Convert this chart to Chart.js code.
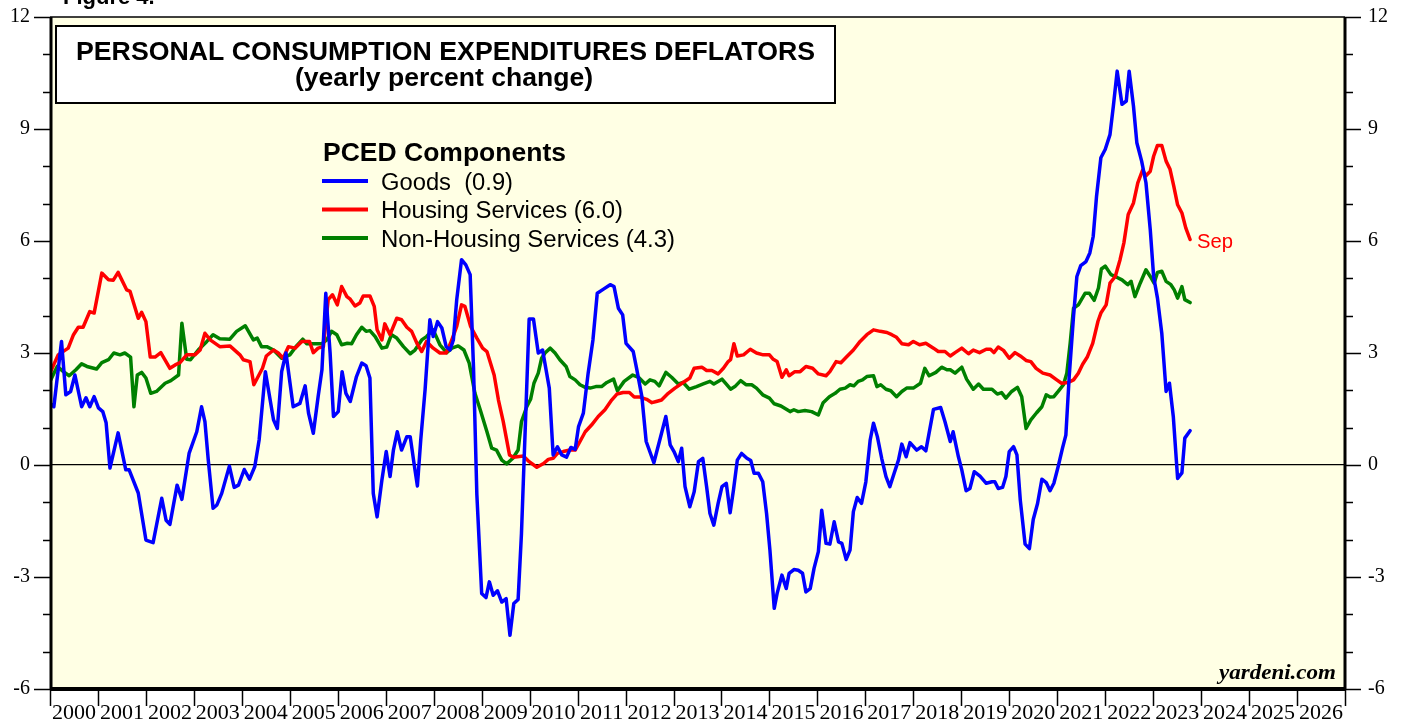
<!DOCTYPE html>
<html>
<head>
<meta charset="utf-8">
<script src="https://cdn.jsdelivr.net/npm/chart.js@4.4.0/dist/chart.umd.min.js"></script>
<style>
  html, body { margin: 0; padding: 0; background: #fff; }
</style>
</head>
<body>
<canvas id="myChart" width="1405" height="723"></canvas>
<script>
// values: [years since Jan 2000, yearly % change]
var goods = [[0.00,1.65],[0.08,1.56],[0.24,3.31],[0.33,1.88],[0.43,1.97],[0.52,2.41],[0.66,1.56],[0.75,1.80],[0.83,1.56],[0.92,1.83],[1.01,1.53],[1.10,1.43],[1.17,1.13],[1.25,-0.08],[1.42,0.86],[1.58,-0.13],[1.65,-0.13],[1.84,-0.75],[2.00,-2.01],[2.15,-2.08],[2.33,-0.89],[2.42,-1.48],[2.50,-1.59],[2.65,-0.54],[2.75,-0.92],[2.90,0.31],[3.06,0.89],[3.16,1.56],[3.23,1.16],[3.30,0.13],[3.40,-1.16],[3.48,-1.07],[3.58,-0.76],[3.74,-0.03],[3.84,-0.60],[3.93,-0.54],[4.05,-0.12],[4.16,-0.38],[4.27,-0.04],[4.36,0.67],[4.49,2.50],[4.66,1.21],[4.74,0.98],[4.83,2.50],[4.92,3.00],[5.07,1.56],[5.21,1.65],[5.32,2.12],[5.39,1.39],[5.49,0.85],[5.59,1.83],[5.67,2.55],[5.75,4.60],[5.84,3.00],[5.91,1.30],[6.01,1.43],[6.09,2.50],[6.17,1.92],[6.26,1.70],[6.39,2.37],[6.50,2.73],[6.59,2.66],[6.67,2.33],[6.74,-0.76],[6.82,-1.39],[6.92,-0.40],[7.01,0.36],[7.09,-0.31],[7.16,0.40],[7.24,0.89],[7.33,0.40],[7.44,0.76],[7.51,0.76],[7.59,0.04],[7.66,-0.56],[7.73,0.67],[7.82,2.01],[7.92,3.89],[7.99,3.44],[8.08,3.84],[8.17,3.67],[8.26,3.17],[8.34,3.08],[8.41,3.35],[8.48,4.43],[8.58,5.50],[8.67,5.36],[8.76,5.10],[8.83,2.60],[8.90,-0.80],[9.00,-3.44],[9.09,-3.55],[9.16,-3.13],[9.24,-3.49],[9.33,-3.37],[9.42,-3.67],[9.51,-3.58],[9.59,-4.56],[9.67,-3.71],[9.76,-3.60],[9.83,-1.83],[9.92,1.39],[9.99,3.91],[10.08,3.91],[10.18,3.00],[10.27,3.08],[10.41,2.06],[10.49,0.27],[10.58,0.49],[10.67,0.27],[10.77,0.21],[10.86,0.47],[10.95,0.42],[11.02,1.03],[11.12,1.39],[11.22,2.46],[11.32,3.35],[11.41,4.60],[11.54,4.71],[11.68,4.83],[11.76,4.78],[11.85,4.20],[11.94,4.02],[12.01,3.26],[12.16,3.04],[12.23,2.59],[12.34,1.83],[12.43,0.63],[12.59,0.06],[12.75,0.85],[12.84,1.30],[12.93,0.54],[13.01,0.36],[13.10,0.09],[13.17,0.45],[13.24,-0.58],[13.34,-1.12],[13.43,-0.72],[13.52,0.09],[13.61,0.18],[13.69,-0.58],[13.76,-1.30],[13.84,-1.61],[13.93,-1.03],[14.01,-0.58],[14.10,-0.49],[14.18,-1.28],[14.25,-0.67],[14.33,0.13],[14.42,0.31],[14.53,0.18],[14.61,0.12],[14.68,-0.22],[14.77,-0.22],[14.86,-0.45],[14.94,-1.30],[15.01,-2.28],[15.10,-3.84],[15.16,-3.44],[15.26,-2.95],[15.35,-3.31],[15.41,-2.90],[15.51,-2.80],[15.60,-2.82],[15.69,-2.90],[15.76,-3.40],[15.85,-3.31],[15.93,-2.77],[16.02,-2.32],[16.09,-1.21],[16.18,-2.10],[16.26,-2.12],[16.35,-1.52],[16.44,-2.06],[16.51,-2.10],[16.60,-2.53],[16.68,-2.28],[16.75,-1.25],[16.83,-0.87],[16.92,-1.03],[17.01,-0.45],[17.10,0.67],[17.17,1.12],[17.25,0.76],[17.34,0.18],[17.43,-0.31],[17.51,-0.58],[17.60,-0.22],[17.69,0.13],[17.76,0.56],[17.85,0.22],[17.93,0.60],[18.07,0.40],[18.17,0.49],[18.26,0.38],[18.42,1.49],[18.57,1.54],[18.66,1.16],[18.77,0.63],[18.83,0.89],[18.94,0.22],[19.01,-0.13],[19.10,-0.69],[19.18,-0.63],[19.27,-0.18],[19.39,-0.30],[19.52,-0.49],[19.64,-0.45],[19.70,-0.45],[19.77,-0.63],[19.86,-0.60],[19.93,-0.31],[20.00,0.36],[20.09,0.49],[20.16,0.27],[20.23,-0.94],[20.33,-2.12],[20.42,-2.24],[20.50,-1.46],[20.59,-1.03],[20.68,-0.38],[20.77,-0.47],[20.85,-0.69],[20.93,-0.49],[21.02,-0.04],[21.11,0.45],[21.18,0.80],[21.25,2.37],[21.34,3.98],[21.41,5.05],[21.49,5.34],[21.60,5.45],[21.68,5.68],[21.75,6.12],[21.82,7.20],[21.91,8.23],[22.00,8.45],[22.10,8.85],[22.17,9.61],[22.25,10.55],[22.35,9.66],[22.44,9.75],[22.50,10.55],[22.59,9.61],[22.66,8.63],[22.76,8.14],[22.85,7.56],[22.94,6.30],[23.01,5.05],[23.09,4.47],[23.18,3.53],[23.27,1.97],[23.34,2.19],[23.42,1.30],[23.51,-0.36],[23.60,-0.21],[23.66,0.72],[23.77,0.92]];

var housing = [[0.00,2.46],[0.17,2.95],[0.38,3.13],[0.49,3.49],[0.59,3.69],[0.69,3.69],[0.83,4.11],[0.92,4.07],[1.08,5.14],[1.22,4.96],[1.32,4.95],[1.42,5.16],[1.60,4.69],[1.67,4.65],[1.84,3.93],[1.91,4.09],[2.00,3.84],[2.09,2.89],[2.19,2.89],[2.31,3.01],[2.50,2.59],[2.61,2.68],[2.71,2.74],[2.85,2.95],[3.02,2.95],[3.13,3.08],[3.23,3.53],[3.34,3.35],[3.54,3.17],[3.75,3.19],[3.96,2.95],[4.03,2.82],[4.17,2.77],[4.25,2.15],[4.34,2.37],[4.43,2.59],[4.51,2.92],[4.66,3.08],[4.76,3.00],[4.86,2.86],[4.97,3.17],[5.11,3.13],[5.25,3.31],[5.41,3.31],[5.49,3.01],[5.59,3.13],[5.70,3.17],[5.80,4.43],[5.89,4.56],[5.99,4.29],[6.08,4.78],[6.19,4.51],[6.26,4.44],[6.36,4.26],[6.46,4.34],[6.53,4.53],[6.67,4.53],[6.76,4.25],[6.82,3.62],[6.92,3.35],[6.98,3.78],[7.09,3.49],[7.23,3.93],[7.33,3.89],[7.44,3.69],[7.54,3.58],[7.65,3.26],[7.75,3.04],[7.85,3.31],[7.99,3.13],[8.13,3.00],[8.26,3.00],[8.35,3.26],[8.48,3.71],[8.58,4.29],[8.65,4.25],[8.77,3.71],[8.90,3.40],[9.02,3.13],[9.11,3.04],[9.26,2.41],[9.35,1.74],[9.45,1.16],[9.58,0.27],[9.66,0.21],[9.87,0.24],[9.99,0.09],[10.15,-0.06],[10.29,0.04],[10.39,0.15],[10.49,0.18],[10.58,0.31],[10.70,0.36],[10.84,0.40],[10.95,0.40],[11.05,0.63],[11.16,0.89],[11.29,1.07],[11.43,1.30],[11.57,1.48],[11.71,1.74],[11.82,1.90],[11.95,1.94],[12.08,1.94],[12.18,1.82],[12.30,1.82],[12.44,1.76],[12.55,1.67],[12.64,1.70],[12.75,1.74],[12.89,1.92],[13.03,2.06],[13.20,2.21],[13.34,2.33],[13.43,2.59],[13.59,2.62],[13.69,2.53],[13.80,2.53],[13.93,2.44],[14.04,2.59],[14.14,2.77],[14.19,2.82],[14.26,3.25],[14.33,2.92],[14.46,2.95],[14.60,3.10],[14.73,3.00],[14.87,2.95],[15.00,2.95],[15.08,2.83],[15.16,2.77],[15.26,2.35],[15.35,2.55],[15.41,2.39],[15.53,2.50],[15.64,2.50],[15.76,2.64],[15.90,2.59],[16.02,2.44],[16.18,2.39],[16.26,2.50],[16.39,2.77],[16.49,2.74],[16.61,2.90],[16.75,3.08],[16.89,3.31],[17.03,3.49],[17.17,3.62],[17.31,3.58],[17.45,3.55],[17.55,3.49],[17.65,3.42],[17.76,3.25],[17.90,3.22],[18.00,3.31],[18.13,3.22],[18.26,3.26],[18.42,3.13],[18.52,3.04],[18.66,3.04],[18.77,2.92],[18.87,3.01],[19.01,3.13],[19.15,2.98],[19.25,3.08],[19.38,3.01],[19.52,3.10],[19.61,3.10],[19.68,3.01],[19.77,3.16],[19.88,3.07],[20.00,2.86],[20.12,3.01],[20.23,2.92],[20.35,2.80],[20.45,2.77],[20.56,2.59],[20.70,2.46],[20.85,2.41],[20.99,2.28],[21.09,2.19],[21.23,2.21],[21.34,2.28],[21.44,2.46],[21.53,2.70],[21.63,2.90],[21.74,3.26],[21.85,3.85],[21.91,4.07],[22.02,4.29],[22.10,4.87],[22.21,5.05],[22.31,5.50],[22.39,5.95],[22.48,6.71],[22.59,7.02],[22.68,7.56],[22.78,7.90],[22.85,7.75],[22.94,7.87],[23.01,8.27],[23.09,8.56],[23.18,8.56],[23.27,8.14],[23.35,7.93],[23.43,7.47],[23.51,6.97],[23.60,6.75],[23.68,6.35],[23.77,6.04]];

var nonHousing = [[0.00,2.24],[0.15,2.64],[0.28,2.50],[0.40,2.39],[0.54,2.55],[0.66,2.71],[0.77,2.64],[0.97,2.57],[1.08,2.74],[1.22,2.82],[1.33,3.00],[1.46,2.95],[1.56,3.00],[1.68,2.89],[1.75,1.56],[1.82,2.41],[1.91,2.48],[2.00,2.33],[2.10,1.92],[2.22,1.97],[2.40,2.19],[2.52,2.26],[2.68,2.41],[2.75,3.80],[2.85,2.83],[2.93,2.82],[3.09,3.08],[3.27,3.31],[3.40,3.49],[3.54,3.38],[3.75,3.37],[3.89,3.58],[4.07,3.73],[4.24,3.35],[4.32,3.40],[4.41,3.17],[4.52,3.17],[4.66,3.08],[4.83,2.86],[5.00,2.95],[5.14,3.19],[5.27,3.37],[5.35,3.25],[5.67,3.25],[5.77,3.35],[5.87,3.58],[5.98,3.49],[6.08,3.22],[6.20,3.26],[6.29,3.25],[6.39,3.49],[6.50,3.69],[6.59,3.58],[6.67,3.60],[6.78,3.44],[6.92,3.13],[7.02,3.16],[7.12,3.49],[7.23,3.40],[7.37,3.17],[7.51,2.98],[7.61,3.08],[7.75,3.35],[7.85,3.44],[7.99,3.62],[8.13,3.22],[8.27,3.01],[8.38,3.13],[8.51,3.19],[8.63,3.08],[8.74,2.73],[8.86,1.92],[8.97,1.48],[9.11,0.89],[9.21,0.45],[9.31,0.40],[9.42,0.13],[9.52,0.03],[9.65,0.18],[9.76,0.40],[9.83,1.16],[9.94,1.56],[10.02,1.76],[10.09,2.19],[10.18,2.46],[10.25,2.86],[10.32,3.00],[10.43,3.13],[10.53,3.00],[10.63,2.82],[10.76,2.64],[10.84,2.37],[10.95,2.28],[11.05,2.15],[11.16,2.08],[11.26,2.06],[11.38,2.10],[11.50,2.10],[11.61,2.21],[11.75,2.30],[11.83,1.99],[11.97,2.24],[12.15,2.41],[12.27,2.35],[12.41,2.17],[12.51,2.28],[12.61,2.24],[12.70,2.12],[12.84,2.48],[12.96,2.35],[13.10,2.17],[13.20,2.21],[13.33,2.03],[13.48,2.10],[13.62,2.17],[13.76,2.24],[13.84,2.17],[14.01,2.30],[14.11,2.15],[14.19,2.03],[14.28,2.10],[14.40,2.26],[14.51,2.15],[14.63,2.15],[14.73,2.06],[14.86,1.88],[15.00,1.79],[15.10,1.64],[15.24,1.58],[15.43,1.43],[15.51,1.48],[15.60,1.43],[15.74,1.46],[15.88,1.43],[16.02,1.34],[16.12,1.67],[16.25,1.83],[16.37,1.92],[16.47,2.03],[16.58,2.06],[16.68,2.15],[16.76,2.12],[16.85,2.24],[16.94,2.28],[17.03,2.37],[17.17,2.39],[17.24,2.10],[17.32,2.15],[17.43,2.03],[17.53,1.99],[17.65,1.83],[17.76,1.97],[17.86,2.06],[18.00,2.06],[18.15,2.19],[18.24,2.59],[18.33,2.39],[18.47,2.48],[18.59,2.62],[18.70,2.55],[18.77,2.55],[18.87,2.46],[19.01,2.62],[19.11,2.30],[19.25,2.03],[19.36,2.17],[19.46,2.03],[19.64,2.03],[19.75,1.90],[19.84,1.94],[19.93,1.79],[20.05,1.97],[20.17,2.08],[20.26,1.83],[20.35,0.98],[20.45,1.21],[20.57,1.40],[20.68,1.56],[20.77,1.88],[20.85,1.82],[20.93,1.83],[21.02,1.97],[21.13,2.15],[21.20,2.46],[21.27,3.26],[21.34,4.20],[21.44,4.29],[21.58,4.60],[21.67,4.60],[21.77,4.41],[21.86,4.74],[21.92,5.25],[22.00,5.33],[22.12,5.10],[22.24,5.03],[22.35,4.96],[22.47,4.83],[22.54,4.92],[22.62,4.51],[22.73,4.87],[22.85,5.23],[22.94,5.05],[23.02,4.87],[23.09,5.16],[23.18,5.19],[23.27,4.92],[23.37,4.83],[23.44,4.69],[23.51,4.47],[23.60,4.78],[23.66,4.43],[23.77,4.35]];

var yearLabels = ["2000","2001","2002","2003","2004","2005","2006","2007","2008","2009","2010","2011","2012","2013","2014","2015","2016","2017","2018","2019","2020","2021","2022","2023","2024","2025","2026"];
var yLabels = [-6, -3, 0, 3, 6, 9, 12];
var legendNames = ["Goods  (0.9)", "Housing Services (6.0)", "Non-Housing Services (4.3)"];
var colors = ['#0000ff', '#ff0000', '#008000'];

function toPoints(arr) {
    return arr.map(function (p) { return { x: 2000 + p[0], y: p[1] }; });
}

// draws text starting at x, stretched to a given width
function fitText(ctx, text, x, y, font, width, color) {
    ctx.save();
    ctx.font = font;
    ctx.fillStyle = color || '#000';
    ctx.textAlign = 'left';
    ctx.textBaseline = 'alphabetic';
    var w = ctx.measureText(text).width;
    ctx.translate(x, y);
    ctx.scale(width / w, 1);
    ctx.fillText(text, 0, 0);
    ctx.restore();
}

var serif = '"Liberation Serif", "Times New Roman", serif';
var sans = '"Liberation Sans", Arial, sans-serif';

// no extra room for the end labels, the frame sits at fixed pixels
function noPad(s) {
    s.paddingTop = 0; s.paddingBottom = 0; s.paddingLeft = 0; s.paddingRight = 0;
}

var decor = {
    id: 'decor',
    beforeDraw: function (chart) {
        var ctx = chart.ctx, a = chart.chartArea;
        ctx.save();
        ctx.fillStyle = '#ffffe4';
        ctx.fillRect(a.left, a.top, a.right - a.left, a.bottom - a.top);
        ctx.restore();
    },
    afterDraw: function (chart) {
        var ctx = chart.ctx, a = chart.chartArea;
        var ys = chart.scales.y, xs = chart.scales.x;
        ctx.save();
        ctx.strokeStyle = '#000';

        // frame
        ctx.lineWidth = 1.5;
        ctx.beginPath(); ctx.moveTo(a.left, a.top); ctx.lineTo(a.right, a.top); ctx.stroke();
        ctx.lineWidth = 3;
        ctx.beginPath(); ctx.moveTo(a.left + 1, a.top); ctx.lineTo(a.left + 1, a.bottom); ctx.stroke();
        ctx.beginPath(); ctx.moveTo(a.right, a.top); ctx.lineTo(a.right, a.bottom); ctx.stroke();
        ctx.lineWidth = 4;
        ctx.beginPath(); ctx.moveTo(a.left, a.bottom); ctx.lineTo(a.right + 1, a.bottom); ctx.stroke();

        // y ticks, both sides
        ctx.lineWidth = 1.5;
        for (var v = -6; v <= 12; v++) {
            var py = Math.round(ys.getPixelForValue(v)) + 0.5;
            var major = v % 3 === 0;
            ctx.beginPath();
            ctx.moveTo(major ? a.left - 16 : a.left - 7, py); ctx.lineTo(a.left, py);
            ctx.moveTo(a.right, py); ctx.lineTo(major ? a.right + 16 : a.right + 8, py);
            ctx.stroke();
        }
        // year ticks
        for (var yr = 2000; yr <= 2027; yr++) {
            var px = Math.round(xs.getPixelForValue(yr)) + 0.5;
            ctx.beginPath(); ctx.moveTo(px, a.bottom); ctx.lineTo(px, a.bottom + 17); ctx.stroke();
        }

        // title box
        ctx.fillStyle = '#fff';
        ctx.fillRect(55, 25, 781, 79);
        ctx.lineWidth = 2;
        ctx.strokeRect(56, 26, 779, 77);
        fitText(ctx, 'PERSONAL CONSUMPTION EXPENDITURES DEFLATORS', 76, 60, 'bold 25px ' + sans, 739);
        fitText(ctx, '(yearly percent change)', 295, 86, 'bold 25px ' + sans, 298);

        // legend
        fitText(ctx, 'PCED Components', 323, 161, 'bold 26px ' + sans, 243);
        var lw = [132, 242, 294];
        for (var i = 0; i < 3; i++) {
            var ly = 181 + i * 28.5;
            ctx.strokeStyle = colors[i];
            ctx.lineWidth = 4;
            ctx.beginPath(); ctx.moveTo(322, ly); ctx.lineTo(368, ly); ctx.stroke();
            fitText(ctx, legendNames[i], 381, ly + 8.5, '23px ' + sans, lw[i]);
        }

        fitText(ctx, 'Sep', 1197, 248, '20px ' + sans, 36, '#ff0000');
        fitText(ctx, 'yardeni.com', 1219, 679, 'bold italic 21px ' + serif, 117);

        ctx.fillStyle = '#000';
        ctx.font = 'bold 22px ' + sans;
        ctx.textBaseline = 'alphabetic';
        ctx.fillText('Figure 4.', 63, 4);
        ctx.restore();
    }
};

var ctx = document.getElementById('myChart').getContext('2d');

var chart = new Chart(ctx, {
    type: 'line',
    data: {
        datasets: [{
            label: 'Goods',
            data: toPoints(goods),
            borderColor: colors[0],
            borderWidth: 3.5,
        },
        {
            label: 'Housing Services',
            data: toPoints(housing),
            borderColor: colors[1],
            borderWidth: 3.5,
        },
        {
            label: 'Non-Housing Services',
            data: toPoints(nonHousing),
            borderColor: colors[2],
            borderWidth: 3.5,
        }]
    },
    options: {
        responsive: false,
        animation: false,
        parsing: false,
        elements: { point: { radius: 0 }, line: { tension: 0, borderJoinStyle: 'round', borderCapStyle: 'round' } },
        layout: { padding: { top: 17, left: 0, right: 0, bottom: 0 } },
        plugins: { legend: { display: false }, tooltip: { enabled: false } },
        scales: {
            x: {
                type: 'linear', min: 2000, max: 2027, position: 'bottom',
                afterBuildTicks: function (s) {
                    s.ticks = yearLabels.map(function (l, i) { return { value: 2000.5 + i }; });
                },
                ticks: {
                    autoSkip: false, maxRotation: 0, padding: 11, color: '#000',
                    font: { family: serif, size: 22 },
                    callback: function (v) { return yearLabels[Math.floor(v) - 2000]; }
                },
                grid: { display: false, drawTicks: false },
                border: { display: false },
                afterFit: function (s) { s.height = 34; noPad(s); }
            },
            y: {
                min: -6, max: 12, position: 'left',
                afterBuildTicks: function (s) { s.ticks = yLabels.map(function (v) { return { value: v }; }); },
                ticks: { padding: 20, color: '#000', font: { family: serif, size: 20 } },
                grid: {
                    drawTicks: false, lineWidth: 1.2,
                    color: function (c) { return c.tick && c.tick.value === 0 ? '#000' : 'rgba(0,0,0,0)'; }
                },
                border: { display: false },
                afterFit: function (s) { s.width = 50; noPad(s); }
            },
            y2: {
                min: -6, max: 12, position: 'right',
                afterBuildTicks: function (s) { s.ticks = yLabels.map(function (v) { return { value: v }; }); },
                ticks: { padding: 23, color: '#000', font: { family: serif, size: 20 } },
                grid: { display: false, drawTicks: false },
                border: { display: false },
                afterFit: function (s) { s.width = 60; noPad(s); }
            }
        }
    },
    plugins: [decor]
});
</script>
</body>
</html>
